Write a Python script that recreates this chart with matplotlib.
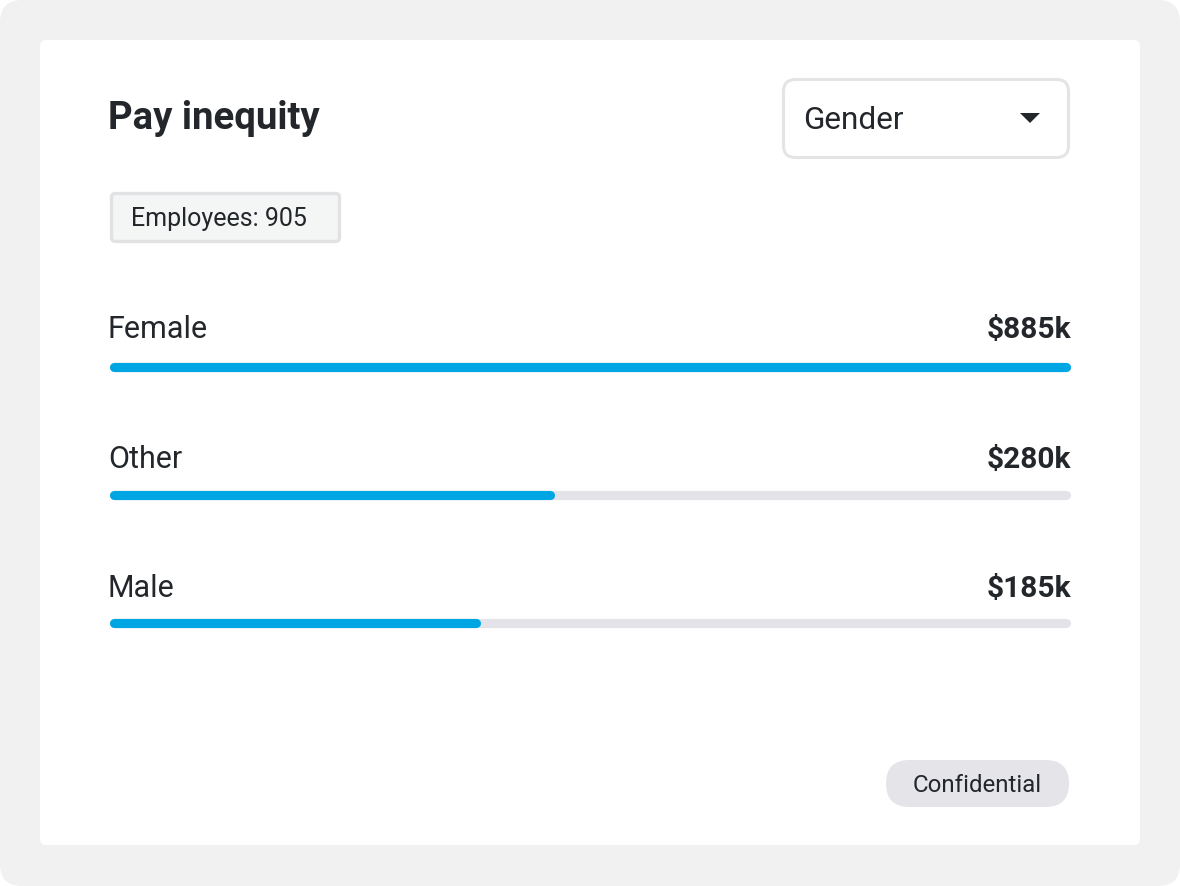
import matplotlib
matplotlib.use("Agg")
import matplotlib.pyplot as plt
from matplotlib.patches import FancyBboxPatch, Polygon

# ---- data ----
categories = ["Female", "Other", "Male"]
pay_labels = ["$885k", "$280k", "$185k"]
bar_share = [1.0, 0.459, 0.381]   # filled fraction of each track
title = "Pay inequity"
dropdown = "Gender"
employees_label = "Employees: 905"
badge = "Confidential"

plt.rcParams['font.family'] = ['Roboto', 'DejaVu Sans']
W, H = 1180, 886
fig = plt.figure(figsize=(W / 100, H / 100), dpi=100)
fig.patch.set_facecolor("white")

ax = fig.add_axes([0, 0, 1, 1])
ax.set_xlim(0, W)
ax.set_ylim(H, 0)
ax.axis("off")

TXT = "#23262a"
BLUE = "#00a6e3"
TRACK = "#e3e3e9"

# outer grey frame and white card
ax.add_patch(FancyBboxPatch((0, 0), W, H, boxstyle="round,pad=0,rounding_size=22",
                            fc="#f1f1f1", ec="none"))
ax.add_patch(FancyBboxPatch((40, 40), 1100, 805, boxstyle="round,pad=0,rounding_size=6",
                            fc="white", ec="none"))

# title
ax.text(108, 129, title, fontsize=27.6, fontweight="bold", color=TXT, va="baseline", ha="left")

# dropdown
ax.add_patch(FancyBboxPatch((783.5, 79.5), 285, 78, boxstyle="round,pad=0,rounding_size=12",
                            fc="white", ec="#e4e4e4", lw=2.2))
ax.text(803, 129, dropdown, fontsize=22.7, color=TXT, va="baseline", ha="left")
ax.add_patch(Polygon([(1020, 113), (1040, 113), (1030, 123)], closed=True, fc=TXT, ec="none"))

# employees chip
ax.add_patch(FancyBboxPatch((111.5, 193.5), 228, 48, boxstyle="round,pad=0,rounding_size=4",
                            fc="#f4f5f5", ec="#e2e2e4", lw=2.4))
ax.text(131, 225.5, employees_label, fontsize=18, color=TXT, va="baseline", ha="left")

# bars axes (x in fraction of track)
cap = 4.5
bx = fig.add_axes([(109 + cap) / W, 0, (961 - 2 * cap) / W, 1])
bx.set_xlim(0, 1)
bx.set_ylim(H, 0)
bx.axis("off")
bx.patch.set_alpha(0)

row0, step = 366.5, 128
text0, tstep = 338, 129.5
for i, (cat, lab, share) in enumerate(zip(categories, pay_labels, bar_share)):
    y = row0 + i * step
    bx.plot([0, 1], [y, y], color=TRACK, lw=6.6, solid_capstyle="round", clip_on=False)
    bx.plot([0, share], [y, y], color=BLUE, lw=6.6, solid_capstyle="round", clip_on=False)
    ty = text0 + i * tstep
    ax.text(108, ty, cat, fontsize=22, color=TXT, va="baseline", ha="left")
    ax.text(1071, ty, lab, fontsize=21.5, fontweight="bold", color=TXT,
            va="baseline", ha="right")

# confidential pill
ax.add_patch(FancyBboxPatch((886, 760), 183, 47, boxstyle="round,pad=0,rounding_size=23.5",
                            fc="#e4e4e9", ec="none"))
ax.text(977.5, 792, badge, fontsize=17.3, color=TXT, va="baseline", ha="center")

fig.savefig("out.png", dpi=100)
